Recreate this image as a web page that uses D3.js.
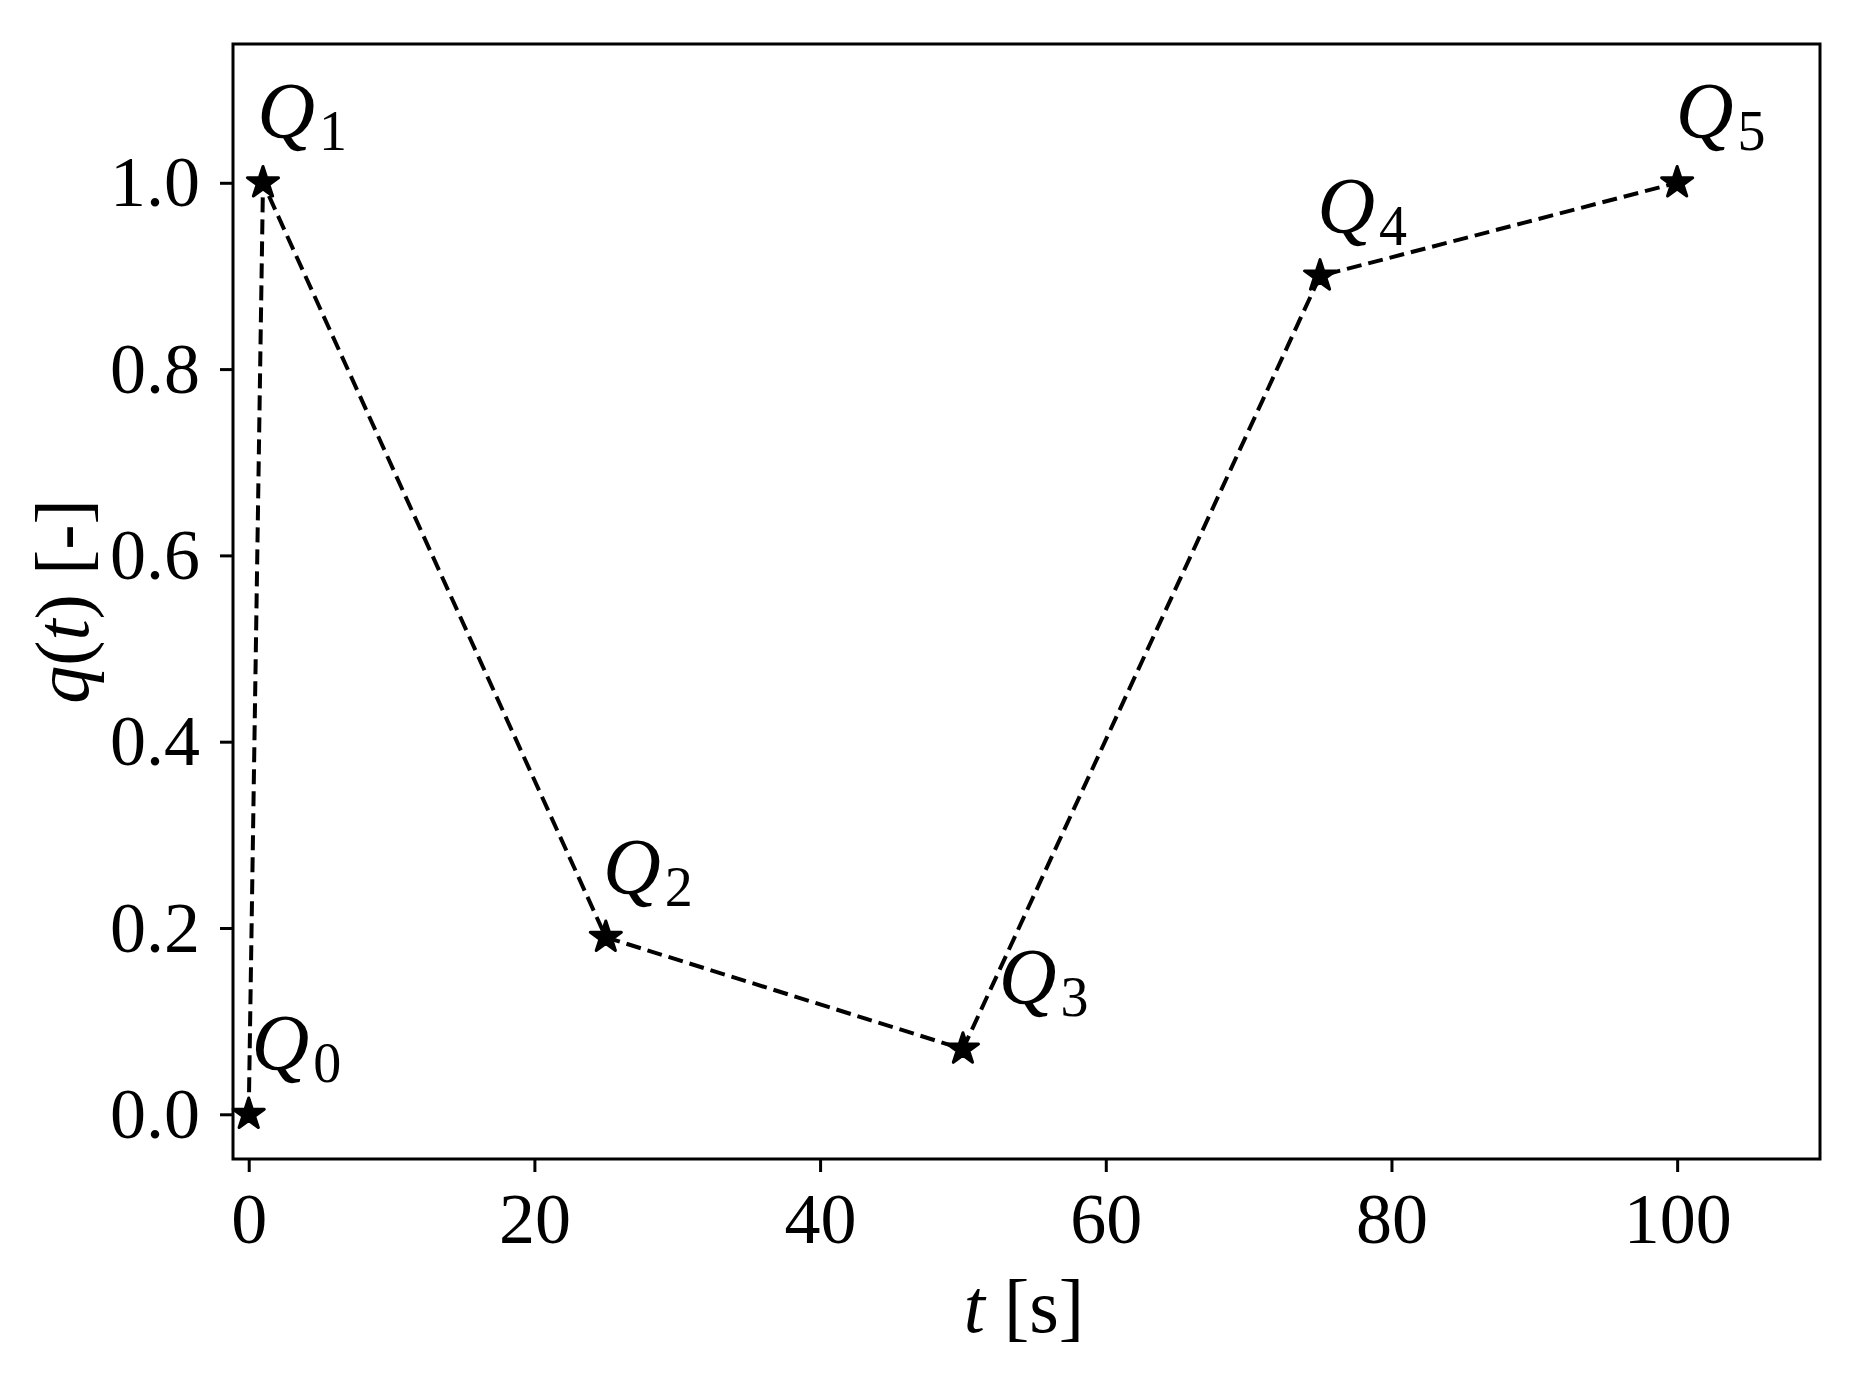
<!DOCTYPE html>
<html>
<head>
<meta charset="utf-8">
<script src="https://cdn.jsdelivr.net/npm/d3@7"></script>
<style>
  body { margin: 0; background: #fff; }
  text { font-family: "Liberation Serif", "DejaVu Serif", serif; fill: #000; }
</style>
</head>
<body>
<div id="chart"></div>
<script>
// points
const times = [0, 1, 25, 50, 75, 100];
const values = [0, 1.0, 0.19, 0.07, 0.9, 1.0];
const names = ["0", "1", "2", "3", "4", "5"];

// where each Q label sits (data units)
const labelTimes = [0.2, 0.6, 24.8, 52.5, 74.8, 99.9];
const labelValues = [0.048, 1.048, 0.236, 0.118, 0.946, 1.048];

const xTicks = [0, 20, 40, 60, 80, 100];
const yTicks = [0.0, 0.2, 0.4, 0.6, 0.8, 1.0];

const width = 1861;
const height = 1392;
const margin = { top: 44, right: 41, bottom: 233, left: 233 };

const svg = d3
  .select("#chart")
  .append("svg")
  .attr("width", width)
  .attr("height", height);

const x = d3
  .scaleLinear()
  .domain([-1.1, 110])
  .range([margin.left, width - margin.right]);

const y = d3
  .scaleLinear()
  .domain([-0.048, 1.149])
  .range([height - margin.bottom, margin.top]);

const tickFont = 72;

// x axis
const xAxis = svg
  .append("g")
  .attr("transform", `translate(0,${height - margin.bottom})`)
  .call(
    d3.axisBottom(x)
      .tickValues(xTicks)
      .tickFormat(d3.format("d"))
      .tickSize(13)
      .tickSizeOuter(0)
      .tickPadding(20)
  );
xAxis.select(".domain").remove();
xAxis.selectAll(".tick line").attr("stroke", "#000").attr("stroke-width", 3);
xAxis.selectAll(".tick text")
  .attr("font-size", tickFont)
  .attr("font-family", "Liberation Serif");

// y axis
const yAxis = svg
  .append("g")
  .attr("transform", `translate(${margin.left},0)`)
  .call(
    d3.axisLeft(y)
      .tickValues(yTicks)
      .tickFormat(d3.format(".1f"))
      .tickSize(13)
      .tickSizeOuter(0)
      .tickPadding(20)
  );
yAxis.select(".domain").remove();
yAxis.selectAll(".tick line").attr("stroke", "#000").attr("stroke-width", 3);
yAxis.selectAll(".tick text")
  .attr("font-size", tickFont)
  .attr("font-family", "Liberation Serif");

// frame around the plot
svg
  .append("rect")
  .attr("x", margin.left)
  .attr("y", margin.top)
  .attr("width", width - margin.left - margin.right)
  .attr("height", height - margin.top - margin.bottom)
  .attr("fill", "none")
  .attr("stroke", "#000")
  .attr("stroke-width", 3);

// dashed line through the points
const line = d3
  .line()
  .x((d, i) => x(times[i]))
  .y((d) => y(d));

svg
  .append("path")
  .datum(values)
  .attr("d", line)
  .attr("fill", "none")
  .attr("stroke", "#000")
  .attr("stroke-width", 4)
  .attr("stroke-dasharray", "15,7");

// star markers (a thin stroke makes them chunkier like matplotlib's '*')
svg
  .selectAll(".star")
  .data(values)
  .join("path")
  .attr("class", "star")
  .attr("d", d3.symbol(d3.symbolStar, 300))
  .attr("transform", (d, i) => `translate(${x(times[i])},${y(d)})`)
  .attr("fill", "#000")
  .attr("stroke", "#000")
  .attr("stroke-width", 3)
  .attr("stroke-linejoin", "round");

// Q labels
const labels = svg
  .selectAll(".qlabel")
  .data(names)
  .join("text")
  .attr("class", "qlabel")
  .attr("x", (d, i) => x(labelTimes[i]))
  .attr("y", (d, i) => y(labelValues[i]))
  .attr("font-size", 80);

labels.append("tspan").attr("font-style", "italic").text("Q");
labels
  .append("tspan")
  .attr("font-size", 56)
  .attr("dx", 4)
  .attr("dy", 12)
  .text((d) => d);

// x axis label
const xLabel = svg
  .append("text")
  .attr("x", 1024)
  .attr("y", 1332)
  .attr("text-anchor", "middle")
  .attr("font-size", 76);
xLabel.append("tspan").attr("font-style", "italic").text("t");
xLabel.append("tspan").text(" [s]");

// y axis label
const yLabel = svg
  .append("text")
  .attr("transform", `translate(88,${(margin.top + height - margin.bottom) / 2}) rotate(-90)`)
  .attr("text-anchor", "middle")
  .attr("font-size", 76);
yLabel.append("tspan").attr("font-style", "italic").text("q");
yLabel.append("tspan").text("(");
yLabel.append("tspan").attr("font-style", "italic").text("t");
yLabel.append("tspan").text(") [-]");
</script>
</body>
</html>
